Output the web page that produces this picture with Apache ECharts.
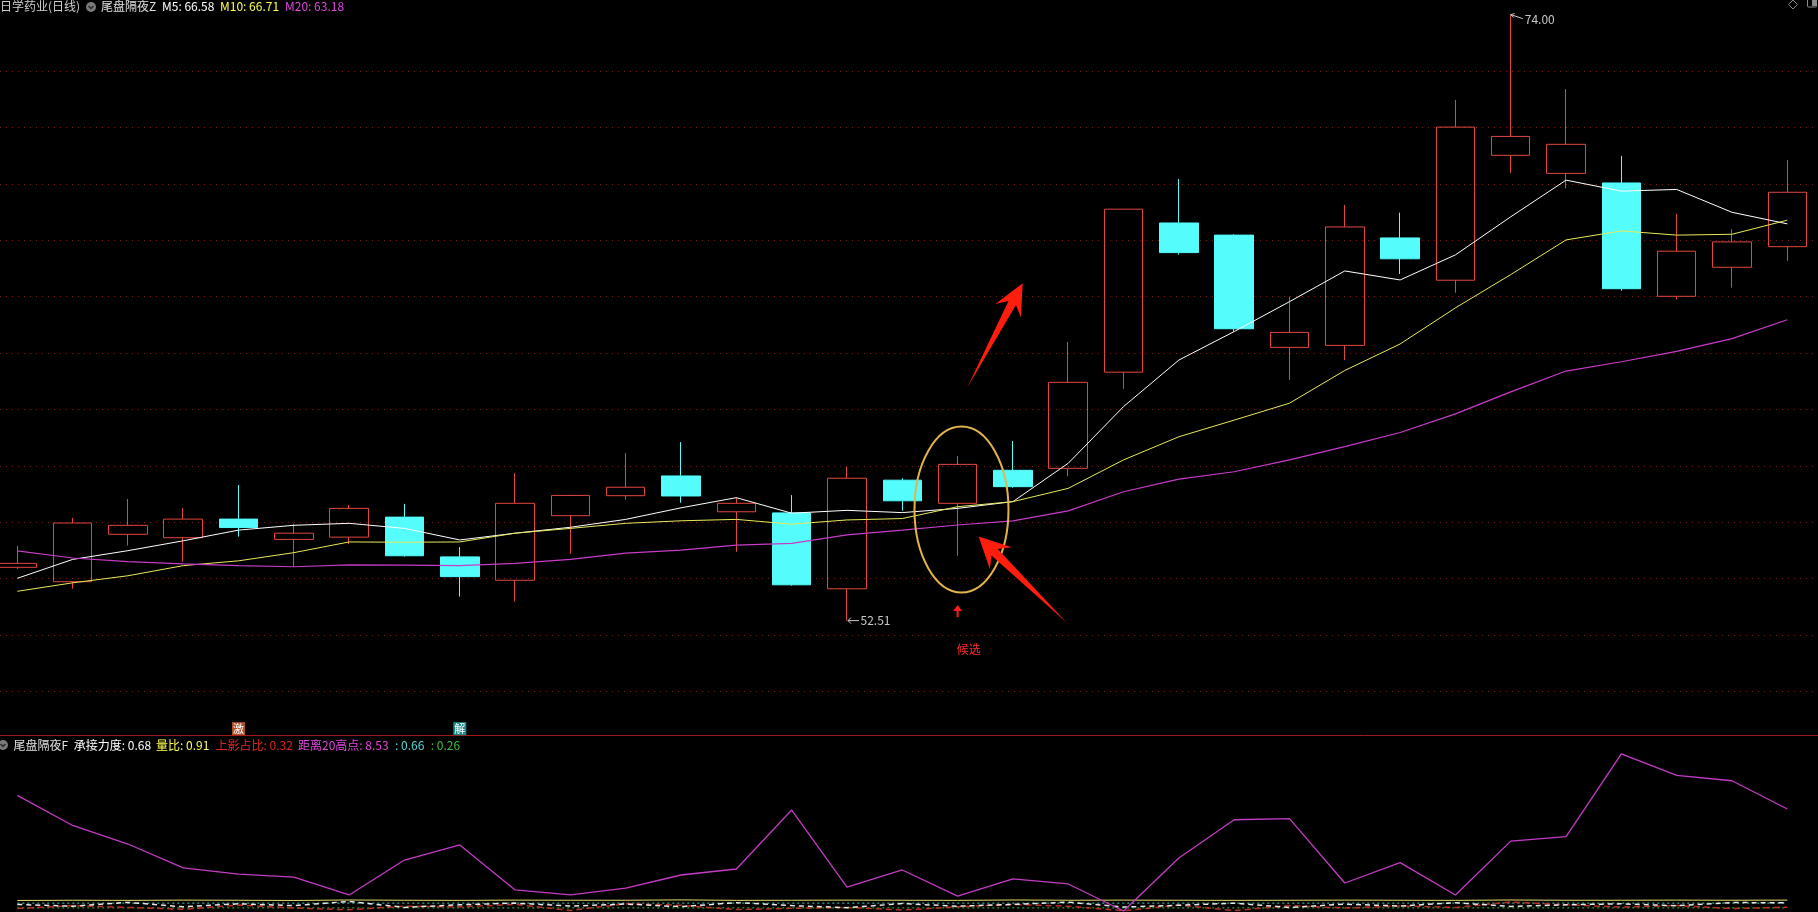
<!DOCTYPE html>
<html><head><meta charset="utf-8">
<script src="https://cdn.jsdelivr.net/npm/echarts/dist/echarts.min.js"></script>
<style>html,body{margin:0;padding:0;background:#000;overflow:hidden}#c{width:1818px;height:912px}</style>
</head><body><div id="c"></div>
<script>
// ---------- data ----------
const categories = ['1','2','3','4','5','6','7','8','9','10','11','12','13','14','15','16','17','18','19','20','21','22','23','24','25','26','27','28','29','30','31','32','33'];
const openP  = [54.40,53.89,55.57,55.45,56.11,55.39,55.47,56.18,54.77,53.94,56.23,56.94,57.64,56.37,56.33,53.64,57.49,56.67,57.84,57.91,61.32,66.61,66.18,62.20,62.27,66.08,64.58,69.01,68.37,68.03,64.01,65.04,65.77];
const closeP = [54.54,55.97,55.89,56.11,55.81,55.61,56.49,54.81,54.07,56.67,56.95,57.24,56.93,56.67,53.78,57.56,56.76,58.05,57.26,60.96,67.10,65.56,62.86,62.73,66.47,65.34,70.01,69.68,69.40,64.28,65.61,65.94,67.70];
const lowP   = [54.34,53.64,55.17,54.60,55.49,54.41,55.22,54.78,53.36,53.18,54.88,56.80,56.69,54.95,53.75,52.51,56.41,54.81,57.22,57.63,60.73,65.49,62.76,61.05,61.75,64.80,64.14,68.39,67.83,64.21,63.90,64.32,65.27];
const highP  = [55.16,56.15,56.82,56.50,57.32,55.94,56.61,56.65,55.12,57.74,56.97,58.45,58.84,56.87,56.96,57.96,57.56,58.35,58.88,62.39,67.10,68.17,66.21,64.00,67.25,66.98,70.97,74.00,71.36,68.99,66.93,66.39,68.84];
const ma5  = [54.01,54.68,54.99,55.34,55.72,55.89,55.96,55.78,55.37,55.61,55.82,56.10,56.51,56.87,56.32,56.42,56.34,56.49,56.73,58.09,60.10,61.75,62.76,63.82,64.91,64.59,65.48,66.83,68.13,67.74,67.80,66.99,66.58];
const ma10 = [53.55,53.85,54.10,54.46,54.63,54.92,55.30,55.29,55.30,55.61,55.78,55.96,56.05,56.10,55.93,56.08,56.13,56.55,56.73,57.20,58.21,59.03,59.62,60.22,61.38,62.32,63.60,64.78,66.01,66.33,66.18,66.21,66.71];
const ma20 = [54.98,54.73,54.60,54.52,54.46,54.42,54.49,54.48,54.46,54.54,54.68,54.90,55.01,55.19,55.25,55.55,55.72,55.90,56.05,56.40,57.08,57.53,57.79,58.21,58.68,59.18,59.84,60.62,61.36,61.69,62.06,62.51,63.18];
// lower panel (尾盘隔夜F)
const dist20    = [9.67,7.15,5.60,3.60,3.09,2.84,1.34,4.26,5.52,1.76,1.34,1.92,3.01,3.51,8.44,2.00,3.43,1.25,2.68,2.26,0.00,4.43,7.63,7.73,2.34,4.04,1.34,5.84,6.22,13.14,11.34,10.89,8.53];
const chengjie  = [0.55,0.40,0.72,0.35,0.60,0.45,0.80,0.30,0.52,0.66,0.41,0.58,0.36,0.70,0.45,0.28,0.62,0.40,0.55,0.74,0.33,0.48,0.65,0.30,0.57,0.42,0.69,0.38,0.52,0.60,0.44,0.71,0.68];
const liangbi   = [0.88,0.90,0.89,0.91,0.90,0.88,0.92,0.90,0.89,0.91,0.90,0.90,0.93,0.89,0.90,0.91,0.90,0.89,0.92,0.90,0.91,0.90,0.89,0.90,0.91,0.90,0.89,0.92,0.90,0.90,0.91,0.90,0.91];
const shangying = [0.20,0.45,0.30,0.15,0.50,0.25,0.10,0.40,0.35,0.55,0.05,0.60,0.48,0.12,0.22,0.30,0.08,0.35,0.55,0.40,0.02,0.50,0.03,0.45,0.25,0.42,0.30,0.75,0.52,0.33,0.46,0.20,0.32];
const lineC = [0.66,0.66,0.66,0.66,0.66,0.66,0.66,0.66,0.66,0.66,0.66,0.66,0.66,0.66,0.66,0.66,0.66,0.66,0.66,0.66,0.66,0.66,0.66,0.66,0.66,0.66,0.66,0.66,0.66,0.66,0.66,0.66,0.66];
const lineG = [0.26,0.26,0.26,0.26,0.26,0.26,0.26,0.26,0.26,0.26,0.26,0.26,0.26,0.26,0.26,0.26,0.26,0.26,0.26,0.26,0.26,0.26,0.26,0.26,0.26,0.26,0.26,0.26,0.26,0.26,0.26,0.26,0.26];
const priceAxis = {min: 50, max: 72, step: 2};
const lowerAxis = {min: 0, max: 15};

// ---------- chart ----------
const candles = openP.map((o, i) => [o, closeP[i], lowP[i], highP[i]]);
const FONT = '"Noto Sans CJK SC","Noto Sans",sans-serif';
const RED = '#e2473d', CYAN = '#54fcfc';
const chart = echarts.init(document.getElementById('c'), null, {renderer: 'canvas'});
const hiddenY = {axisLine: {show: false}, axisTick: {show: false}, axisLabel: {show: false}, splitLine: {show: false}};
chart.setOption({
  backgroundColor: '#000000',
  animation: false,
  grid: [
    {left: 17.3, right: 30.7, top: 71, height: 620.4},
    {left: 17.3, right: 30.7, top: 731.6, height: 179.4},
    {left: 0, right: 0, top: 71, height: 620.4}
  ],
  xAxis: [
    {type: 'category', gridIndex: 0, data: categories, boundaryGap: false, show: false},
    {type: 'category', gridIndex: 1, data: categories, boundaryGap: false, show: false},
    {type: 'value', gridIndex: 2, min: 0, max: 1, show: false}
  ],
  yAxis: [
    Object.assign({type: 'value', gridIndex: 0, min: priceAxis.min, max: priceAxis.max, interval: priceAxis.step}, hiddenY),
    Object.assign({type: 'value', gridIndex: 1, min: lowerAxis.min, max: lowerAxis.max}, hiddenY),
    {type: 'value', gridIndex: 2, min: priceAxis.min, max: priceAxis.max, interval: priceAxis.step,
     axisLine: {show: false}, axisTick: {show: false}, axisLabel: {show: false},
     splitLine: {show: true, lineStyle: {color: '#7c2219', type: [1, 5], width: 1}}}
  ],
  series: [
    {type: 'line', xAxisIndex: 2, yAxisIndex: 2, data: [], silent: true},
    {type: 'candlestick', xAxisIndex: 0, yAxisIndex: 0, data: candles, barWidth: 39, clip: false,
     itemStyle: {color: 'transparent', color0: CYAN, borderColor: RED, borderColor0: CYAN, borderWidth: 1}},
    {type: 'line', name: 'MA5', data: ma5, xAxisIndex: 0, yAxisIndex: 0, symbol: 'none', clip: false, lineStyle: {color: '#ffffff', width: 1}},
    {type: 'line', name: 'MA10', data: ma10, xAxisIndex: 0, yAxisIndex: 0, symbol: 'none', clip: false, lineStyle: {color: '#e9e95a', width: 1}},
    {type: 'line', name: 'MA20', data: ma20, xAxisIndex: 0, yAxisIndex: 0, symbol: 'none', clip: false, lineStyle: {color: '#c83cc8', width: 1.2}},
    {type: 'line', data: lineG, xAxisIndex: 1, yAxisIndex: 1, symbol: 'none', clip: false, lineStyle: {color: '#3fbf3f', width: 1, type: [2, 3]}},
    {type: 'line', data: lineC, xAxisIndex: 1, yAxisIndex: 1, symbol: 'none', clip: false, lineStyle: {color: '#4cd6d6', width: 1, type: [2, 3]}},
    {type: 'line', data: shangying, xAxisIndex: 1, yAxisIndex: 1, symbol: 'none', clip: false, lineStyle: {color: '#b83020', width: 1.5, type: [6, 4]}},
    {type: 'line', data: chengjie, xAxisIndex: 1, yAxisIndex: 1, symbol: 'none', clip: false, lineStyle: {color: '#e8e8e8', width: 1.5, type: [5, 4]}},
    {type: 'line', data: liangbi, xAxisIndex: 1, yAxisIndex: 1, symbol: 'none', clip: false, lineStyle: {color: '#e8e070', width: 1}},
    {type: 'line', data: dist20, xAxisIndex: 1, yAxisIndex: 1, symbol: 'none', clip: false, lineStyle: {color: '#c43cc4', width: 1.3}}
  ]
});

// ---------- annotations anchored to the data scales ----------
function P(fi, price) {
  const a = chart.convertToPixel({xAxisIndex: 0, yAxisIndex: 0}, [0, price]);
  const b = chart.convertToPixel({xAxisIndex: 0, yAxisIndex: 0}, [1, price]);
  return [a[0] + fi * (b[0] - a[0]), a[1]];
}
function arrow(tail, tip, headLen, headHalf, shaftHalf) {
  const dx = tip[0] - tail[0], dy = tip[1] - tail[1], L = Math.hypot(dx, dy);
  const ux = dx / L, uy = dy / L, nx = -uy, ny = ux;
  const bx = tip[0] - ux * headLen, by = tip[1] - uy * headLen;
  const ix = tip[0] - ux * headLen * 0.72, iy = tip[1] - uy * headLen * 0.72;
  return [tip, [bx + nx * headHalf, by + ny * headHalf], [ix + nx * shaftHalf, iy + ny * shaftHalf], tail,
          [ix - nx * shaftHalf, iy - ny * shaftHalf], [bx - nx * headHalf, by - ny * headHalf]];
}
const pxPerUnit = P(0, 0)[1] - P(0, 1)[1];
const g = [];
function txt(x, y, text, fill, size, align) {
  g.push({type: 'text', x: x, y: y, z: 100, style: {text: text, fill: fill, font: (size || 12) + 'px ' + FONT, align: align || 'left', verticalAlign: 'middle'}});
}
function legendIcon(cx, cy) {
  g.push({type: 'circle', z: 100, shape: {cx: cx, cy: cy, r: 5}, style: {fill: '#7a7a7a'}});
  g.push({type: 'polyline', z: 101, shape: {points: [[cx - 2.5, cy - 1], [cx, cy + 1.5], [cx + 2.5, cy - 1]]}, style: {stroke: '#2a2a2a', lineWidth: 1.5, fill: 'none'}});
}
// top legend
const last = ma5.length - 1;
txt(0, 6, '日学药业(日线)', '#d0d0d0');
legendIcon(91, 7);
txt(101, 6, '尾盘隔夜Z', '#e0e0e0');
txt(162, 6, 'M5: ' + ma5[last].toFixed(2), '#ffffff');
txt(220, 6, 'M10: ' + ma10[last].toFixed(2), '#ffff54');
txt(285, 6, 'M20: ' + ma20[last].toFixed(2), '#e048e0');
// top-right icons
g.push({type: 'polygon', z: 100, shape: {points: [[1793, 0], [1797.5, 4.5], [1793, 9], [1788.5, 4.5]]}, style: {fill: 'none', stroke: '#8a8a8a', lineWidth: 1}});
g.push({type: 'rect', z: 100, shape: {x: 1807.5, y: -2, width: 9, height: 9, r: 1}, style: {fill: 'none', stroke: '#8a8a8a', lineWidth: 1}});
g.push({type: 'rect', z: 100, shape: {x: 1812, y: -1, width: 4, height: 7}, style: {fill: '#8a8a8a'}});
// separator
g.push({type: 'line', z: 100, shape: {x1: 0, y1: 735.5, x2: 1818, y2: 735.5}, style: {stroke: '#a01a1a', lineWidth: 1}});
// bottom legend
legendIcon(3, 745);
txt(13.4, 745, '尾盘隔夜F', '#e0e0e0');
txt(73.7, 745, '承接力度: ' + chengjie[last].toFixed(2), '#ffffff');
txt(156, 745, '量比: ' + liangbi[last].toFixed(2), '#ffff54');
txt(215.6, 745, '上影占比: ' + shangying[last].toFixed(2), '#e02424');
txt(298, 745, '距离20高点: ' + dist20[last].toFixed(2), '#e048e0');
txt(395, 745, ': ' + lineC[last].toFixed(2), '#58d8d8');
txt(430.8, 745, ': ' + lineG[last].toFixed(2), '#40c040');
// high / low labels
const iHigh = highP.indexOf(Math.max.apply(null, highP));
const iLow = lowP.indexOf(Math.min.apply(null, lowP));
const ph = P(iHigh, highP[iHigh]);
g.push({type: 'polyline', z: 100, shape: {points: [[ph[0] + 4, ph[1] - 1], [ph[0], ph[1]], [ph[0] + 3, ph[1] + 3]]}, style: {stroke: '#c8c8c8', lineWidth: 1, fill: 'none'}});
g.push({type: 'line', z: 100, shape: {x1: ph[0], y1: ph[1], x2: ph[0] + 12, y2: ph[1] + 4}, style: {stroke: '#c8c8c8', lineWidth: 1}});
txt(ph[0] + 14, ph[1] + 4.5, highP[iHigh].toFixed(2), '#c8c8c8');
const pl = P(iLow, lowP[iLow]);
g.push({type: 'polyline', z: 100, shape: {points: [[pl[0] + 4, pl[1] - 3], [pl[0] + 1, pl[1]], [pl[0] + 4, pl[1] + 3]]}, style: {stroke: '#c8c8c8', lineWidth: 1, fill: 'none'}});
g.push({type: 'line', z: 100, shape: {x1: pl[0] + 1, y1: pl[1], x2: pl[0] + 12, y2: pl[1]}, style: {stroke: '#c8c8c8', lineWidth: 1}});
txt(pl[0] + 13.5, pl[1], lowP[iLow].toFixed(2), '#c8c8c8');
// signal candle: ellipse, arrows, 候选
const sig = 17;
const ec = P(sig + 0.07, 56.45);
g.push({type: 'ellipse', z: 90, shape: {cx: ec[0], cy: ec[1], rx: 47, ry: 2.94 * pxPerUnit}, style: {fill: 'none', stroke: '#e4b44c', lineWidth: 2}});
g.push({type: 'polygon', z: 95, shape: {points: arrow(P(sig + 0.175, 60.78), P(sig + 1.177, 64.47), 31, 14.5, 4.2)}, style: {fill: '#ff1e0e'}});
g.push({type: 'polygon', z: 95, shape: {points: arrow(P(sig + 1.97, 52.44), P(sig + 0.38, 55.49), 31, 15.5, 4.5)}, style: {fill: '#ff1e0e'}});
const sa = P(sig, 53.06);
g.push({type: 'polygon', z: 95, shape: {points: [[sa[0], sa[1]], [sa[0] + 4.5, sa[1] + 6], [sa[0] - 4.5, sa[1] + 6]]}, style: {fill: '#ff1a1a'}});
g.push({type: 'rect', z: 95, shape: {x: sa[0] - 1, y: sa[1] + 5, width: 2, height: 7}, style: {fill: '#ff1a1a'}});
const hx = P(sig + 0.2, 51.5);
txt(hx[0], hx[1], '候选', '#ff2a2a', 12, 'center');
// 激 / 解 tags
function tag(i, text, bg) {
  const p = P(i, 48.68);
  g.push({type: 'rect', z: 100, shape: {x: p[0] - 6.5, y: p[1] - 6.5, width: 13, height: 13}, style: {fill: bg}});
  txt(p[0], p[1] + 0.5, text, '#ffffff', 11, 'center');
}
tag(4, '激', '#b0522c');
tag(8, '解', '#1d8a8a');
chart.setOption({graphic: g});
</script></body></html>
